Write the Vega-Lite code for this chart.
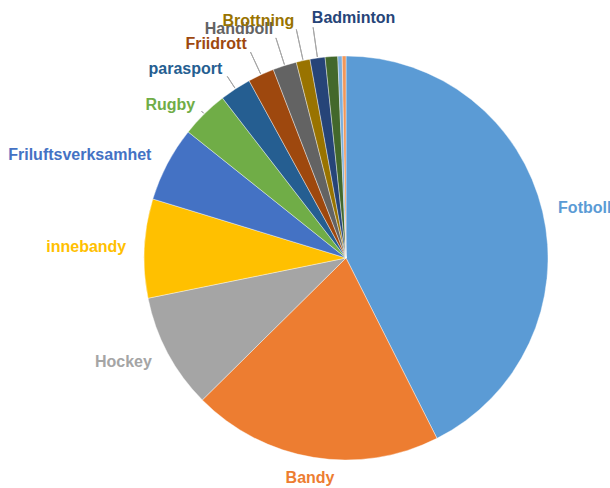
{
  "$schema": "https://vega.github.io/schema/vega-lite/v6.json",
  "width": 528,
  "height": 460,
  "autosize": "none",
  "padding": {"left": 82, "top": 28, "right": 0, "bottom": 0},
  "background": "white",
  "data": {"values": [
    {"ord": 1, "sport": "Fotboll", "label": "Fotboll", "andel": 42.5},
    {"ord": 2, "sport": "Bandy", "label": "Bandy", "andel": 20.0},
    {"ord": 3, "sport": "Hockey", "label": "Hockey", "andel": 9.2},
    {"ord": 4, "sport": "innebandy", "label": "innebandy", "andel": 7.9},
    {"ord": 5, "sport": "Friluftsverksamhet", "label": "Friluftsverksamhet", "andel": 6.0},
    {"ord": 6, "sport": "Rugby", "label": "Rugby", "andel": 3.8},
    {"ord": 7, "sport": "parasport", "label": "parasport", "andel": 2.5},
    {"ord": 8, "sport": "Friidrott", "label": "Friidrott", "andel": 2.1},
    {"ord": 9, "sport": "Handboll", "label": "Handboll", "andel": 1.9},
    {"ord": 10, "sport": "Brottning", "label": "Brottning", "andel": 1.1},
    {"ord": 11, "sport": "Badminton", "label": "Badminton", "andel": 1.2},
    {"ord": 12, "sport": "Övrigt 1", "label": "", "andel": 1.0},
    {"ord": 13, "sport": "Övrigt 2", "label": "", "andel": 0.35},
    {"ord": 14, "sport": "Övrigt 3", "label": "", "andel": 0.3}
  ]},
  "transform": [
    {"stack": "andel", "groupby": [], "sort": [{"field": "ord", "order": "ascending"}], "as": ["s0", "s1"]},
    {"calculate": "(datum.s0 + datum.s1) / 2", "as": "mid"}
  ],
  "layer": [
    {
      "mark": {"type": "arc", "outerRadius": 202, "stroke": "white", "strokeWidth": 0.4},
      "encoding": {
        "theta": {"field": "s0", "type": "quantitative", "scale": {"domain": [0, 99.85], "zero": true, "nice": false}},
        "theta2": {"field": "s1"},
        "color": {
          "field": "sport", "type": "nominal", "legend": null,
          "scale": {
            "domain": ["Fotboll", "Bandy", "Hockey", "innebandy", "Friluftsverksamhet", "Rugby", "parasport", "Friidrott", "Handboll", "Brottning", "Badminton", "Övrigt 1", "Övrigt 2", "Övrigt 3"],
            "range": ["#5B9BD5", "#ED7D31", "#A5A5A5", "#FFC000", "#4472C4", "#70AD47", "#255E91", "#9E480E", "#636363", "#997300", "#264478", "#43682B", "#7CAFDD", "#F1975A"]
          }
        }
      }
    },
    {
      "transform": [{"filter": "datum.label != '' && datum.mid > 86"}],
      "mark": {"type": "arc", "fill": null, "stroke": "#A6A6A6", "strokeWidth": 1, "radiusOffset": -9},
      "encoding": {
        "theta": {"field": "mid", "type": "quantitative"},
        "theta2": {"field": "mid"},
        "radius": {"field": "mid", "type": "quantitative", "scale": {"type": "linear", "zero": false, "nice": false, "domain": [87.5, 90.65, 92.95, 94.95, 96.45, 97.6], "range": [215, 226, 236, 240, 243, 242]}},
        "radius2": {"value": 203}
      }
    },
    {
      "transform": [{"filter": "datum.label != '' && datum.mid < 45"}],
      "mark": {"type": "text", "radius": 218, "align": "left", "baseline": "middle", "font": "Liberation Sans", "fontWeight": "bold", "fontSize": 16},
      "encoding": {
        "theta": {"field": "mid", "type": "quantitative", "stack": null},
        "text": {"field": "label"},
        "color": {"field": "sport", "type": "nominal", "legend": null}
      }
    },
    {
      "transform": [{"filter": "datum.label != '' && datum.mid >= 45 && datum.mid < 57"}],
      "mark": {"type": "text", "radius": 223, "align": "center", "baseline": "middle", "font": "Liberation Sans", "fontWeight": "bold", "fontSize": 16},
      "encoding": {
        "theta": {"field": "mid", "type": "quantitative", "stack": null},
        "text": {"field": "label"},
        "color": {"field": "sport", "type": "nominal", "legend": null}
      }
    },
    {
      "transform": [{"filter": "datum.label != '' && datum.mid >= 57 && datum.mid < 86"}],
      "mark": {"type": "text", "radius": 220, "align": "right", "baseline": "middle", "font": "Liberation Sans", "fontWeight": "bold", "fontSize": 16},
      "encoding": {
        "theta": {"field": "mid", "type": "quantitative", "stack": null},
        "text": {"field": "label"},
        "color": {"field": "sport", "type": "nominal", "legend": null}
      }
    },
    {
      "transform": [{"filter": "datum.label != '' && datum.mid >= 86 && datum.mid < 97"}],
      "mark": {"type": "text", "align": "right", "baseline": "middle", "font": "Liberation Sans", "fontWeight": "bold", "fontSize": 16},
      "encoding": {
        "theta": {"field": "mid", "type": "quantitative", "stack": null},
        "radius": {"field": "mid", "type": "quantitative"},
        "text": {"field": "label"},
        "color": {"field": "sport", "type": "nominal", "legend": null}
      }
    },
    {
      "transform": [{"filter": "datum.label != '' && datum.mid >= 97"}],
      "mark": {"type": "text", "align": "left", "baseline": "middle", "font": "Liberation Sans", "fontWeight": "bold", "fontSize": 16},
      "encoding": {
        "theta": {"field": "mid", "type": "quantitative", "stack": null},
        "radius": {"field": "mid", "type": "quantitative"},
        "text": {"field": "label"},
        "color": {"field": "sport", "type": "nominal", "legend": null}
      }
    }
  ],
  "config": {"view": {"stroke": null}}
}
